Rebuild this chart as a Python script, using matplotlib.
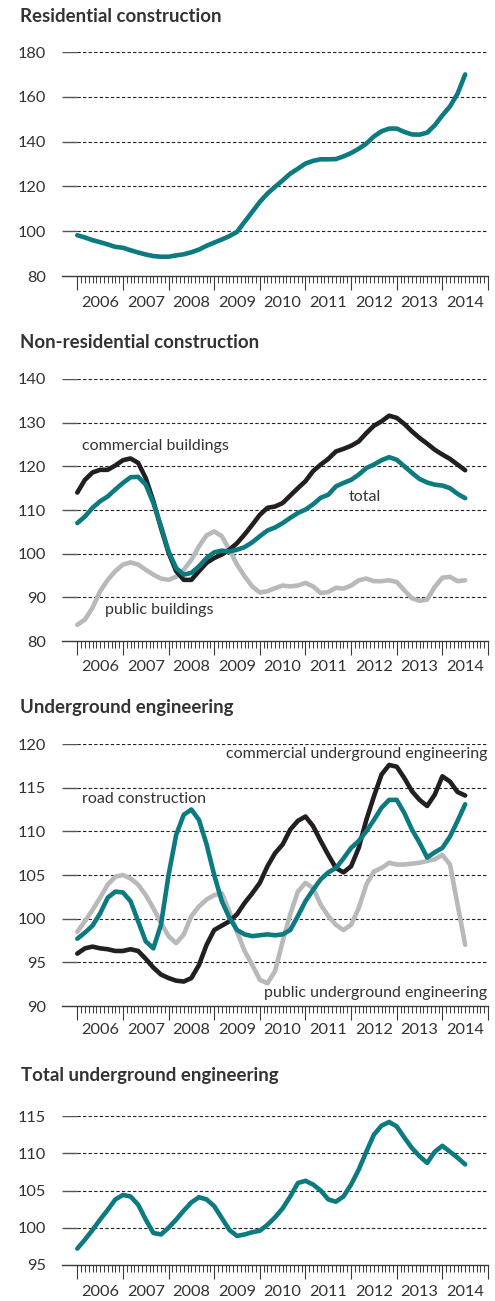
import numpy as np
import matplotlib
matplotlib.use("Agg")
import matplotlib.pyplot as plt
import matplotlib.transforms as mtransforms

plt.rcParams['font.family'] = ['Lato', 'DejaVu Sans']

# ---------------- data (bi-monthly, Jan 2006 .. Jul 2014) ----------------
years = [2006, 2007, 2008, 2009, 2010, 2011, 2012, 2013, 2014]
year_labels = [str(y) for y in years]

residential = [98.2, 97.2, 96.0, 95.1, 94.1, 93.0, 92.6, 91.5, 90.5, 89.6, 88.9, 88.6,
               88.6, 89.2, 89.7, 90.6, 91.8, 93.5, 94.9, 96.3, 97.8, 99.7, 104.2, 108.6,
               113.1, 116.8, 119.8, 122.7, 125.7, 127.9, 130.2, 131.4, 132.1, 132.1, 132.2, 133.4,
               134.9, 136.8, 139.1, 142.3, 144.6, 145.8, 145.8, 144.3, 143.2, 143.1, 144.0, 147.3,
               151.7, 155.7, 161.4, 170.0]

nr_commercial = [114.0, 116.9, 118.6, 119.2, 119.2, 120.2, 121.4, 121.8, 120.8, 117.3, 112.0, 105.9,
                 100.2, 96.0, 94.0, 94.0, 96.0, 97.9, 99.0, 99.8, 100.9, 102.4, 104.4, 106.6,
                 108.9, 110.5, 110.8, 111.6, 113.3, 115.0, 116.6, 118.9, 120.4, 121.7, 123.4, 124.0,
                 124.7, 125.7, 127.6, 129.3, 130.3, 131.6, 131.1, 129.7, 128.0, 126.5, 125.2, 123.8,
                 122.7, 121.7, 120.4, 119.1]

nr_total = [107.0, 108.5, 110.5, 112.0, 113.1, 114.7, 116.2, 117.5, 117.6, 115.8, 111.6, 106.3,
            100.5, 96.7, 95.2, 95.6, 97.1, 99.0, 100.3, 100.7, 100.5, 100.9, 101.5, 102.6,
            104.0, 105.3, 106.0, 107.0, 108.2, 109.3, 110.1, 111.3, 112.8, 113.5, 115.4, 116.2,
            116.9, 118.1, 119.6, 120.4, 121.4, 122.1, 121.5, 120.0, 118.5, 117.1, 116.3, 115.8,
            115.6, 115.0, 113.7, 112.7]

nr_public = [83.7, 84.9, 87.6, 91.4, 94.0, 96.0, 97.5, 98.0, 97.5, 96.3, 95.2, 94.3,
             94.0, 94.7, 96.3, 98.6, 101.7, 104.2, 105.1, 104.0, 100.9, 97.5, 94.8, 92.5,
             91.1, 91.4, 92.1, 92.7, 92.5, 92.7, 93.3, 92.5, 91.0, 91.2, 92.2, 92.0,
             92.7, 93.9, 94.3, 93.7, 93.7, 93.9, 93.5, 91.6, 89.8, 89.2, 89.5, 92.4,
             94.5, 94.7, 93.7, 93.9]

ue_road = [97.7, 98.4, 99.2, 100.6, 102.4, 103.1, 103.0, 102.0, 99.7, 97.4, 96.6, 99.3,
           105.0, 109.6, 111.9, 112.5, 111.3, 108.5, 105.0, 102.0, 100.1, 98.7, 98.2, 98.0,
           98.1, 98.2, 98.1, 98.2, 98.7, 100.3, 102.0, 103.3, 104.5, 105.3, 105.8, 106.9,
           108.1, 108.9, 110.0, 111.3, 112.7, 113.6, 113.6, 112.1, 110.2, 108.7, 107.0, 107.6,
           108.1, 109.4, 111.2, 113.1]

ue_commercial = [96.0, 96.6, 96.8, 96.6, 96.5, 96.3, 96.3, 96.5, 96.3, 95.4, 94.4, 93.6,
                 93.2, 92.9, 92.8, 93.2, 94.7, 97.0, 98.7, 99.2, 99.7, 100.5, 101.8, 102.9,
                 104.1, 106.0, 107.5, 108.5, 110.2, 111.2, 111.7, 110.6, 108.9, 107.3, 105.8, 105.3,
                 106.0, 108.1, 111.3, 114.0, 116.5, 117.6, 117.4, 116.1, 114.6, 113.6, 112.9, 114.2,
                 116.3, 115.7, 114.5, 114.1]

ue_public = [98.5, 99.7, 101.0, 102.4, 103.9, 104.8, 105.0, 104.6, 103.9, 102.7, 101.2, 99.5,
             98.0, 97.2, 98.2, 100.3, 101.4, 102.2, 102.7, 102.9, 100.8, 98.5, 96.3, 94.7,
             93.0, 92.6, 94.0, 97.4, 100.5, 103.1, 104.1, 103.5, 101.6, 100.3, 99.3, 98.7,
             99.3, 101.2, 103.9, 105.4, 105.8, 106.4, 106.2, 106.2, 106.3, 106.4, 106.6, 106.8,
             107.3, 106.2, 101.6, 97.0]

ue_total = [97.2, 98.4, 99.7, 101.1, 102.4, 103.8, 104.4, 104.2, 103.1, 101.1, 99.3, 99.1,
            100.0, 101.1, 102.3, 103.4, 104.1, 103.8, 102.9, 101.3, 99.7, 98.9, 99.1, 99.4,
            99.6, 100.4, 101.4, 102.6, 104.2, 106.0, 106.3, 105.8, 105.0, 103.8, 103.5, 104.2,
            105.8, 107.8, 110.2, 112.5, 113.7, 114.2, 113.6, 112.1, 110.7, 109.6, 108.7, 110.2,
            111.0, 110.2, 109.4, 108.5]

x = 2006 + np.arange(len(residential)) * 2 / 12.0

TEAL = '#0b7b80'
BLACK = '#231f20'
GREY = '#b8b9bb'
TXT = '#333333'

W, H = 495, 1301
fig = plt.figure(figsize=(W / 100, H / 100), dpi=100)

X0 = 2006 - 15.3 / 45.63
X1 = 2015.0


def px_axes(top, bottom, left=62, right=488):
    return fig.add_axes([left / W, 1 - bottom / H, (right - left) / W, (bottom - top) / H])


def fig_text(xp, yp, s, **kw):
    fig.text(xp / W, 1 - yp / H, s, **kw)


def style_axes(ax, yticks, ylabel_y):
    ax.set_xlim(X0, X1)
    ax.set_ylim(yticks[0], yticks[-1])
    for s in ['top', 'right', 'left']:
        ax.spines[s].set_visible(False)
    ax.spines['bottom'].set_color('#3a3a3a')
    ax.spines['bottom'].set_linewidth(1.0)
    ax.set_yticks(yticks)
    ax.set_yticklabels([str(v) for v in yticks])
    ax.tick_params(axis='y', length=0, pad=11.5, labelsize=11.8, labelcolor=TXT)
    # grid: solid stub then dashed
    for v in yticks[1:]:
        ax.hlines(v, X0, 2006, colors='#555555', lw=1.0, zorder=1)
        ax.hlines(v, 2006, X1, colors='#222222', lw=0.8, linestyles=(0, (3, 2)), zorder=1)
    ax.set_xticks(np.arange(2006, 2016))
    ax.set_xticklabels([])
    minors = [y + m / 12 for y in range(2006, 2015) for m in range(1, 12)]
    ax.set_xticks(minors, minor=True)
    ax.tick_params(axis='x', which='major', length=10, width=0.8, color='#3a3a3a', direction='out')
    ax.tick_params(axis='x', which='minor', length=5, width=0.7, color='#3a3a3a', direction='out')
    trans = mtransforms.blended_transform_factory(ax.transData, ax.transAxes)
    for yr, lab in zip(years, year_labels):
        ax.text(yr + 0.5, ylabel_y, lab, transform=trans, ha='center', va='center',
                fontsize=11.8, color=TXT)


LW = 3.3
TFS = 13.4

# Panel 1
ax1 = px_axes(52, 276)
style_axes(ax1, [80, 100, 120, 140, 160, 180], -27 / 224)
ax1.plot(x, residential, color=TEAL, lw=LW, solid_capstyle='round', clip_on=False, zorder=3)
fig_text(20, 17, 'Residential construction', fontsize=TFS, fontweight='bold', color=TXT,
         va='center', ha='left')

# Panel 2
ax2 = px_axes(379, 641)
style_axes(ax2, [80, 90, 100, 110, 120, 130, 140], -26 / 262)
ax2.plot(x, nr_public, color=GREY, lw=LW, solid_capstyle='round', clip_on=False, zorder=3)
ax2.plot(x, nr_commercial, color=BLACK, lw=LW, solid_capstyle='round', clip_on=False, zorder=4)
ax2.plot(x, nr_total, color=TEAL, lw=LW, solid_capstyle='round', clip_on=False, zorder=5)
fig_text(20, 343, 'Non-residential construction', fontsize=TFS, fontweight='bold', color=TXT,
         va='center', ha='left')
fig_text(82, 446, 'commercial buildings', fontsize=11.5, color=TXT, va='center', ha='left')
fig_text(349, 497, 'total', fontsize=11.5, color=TXT, va='center', ha='left')
fig_text(105, 610, 'public buildings', fontsize=11.5, color=TXT, va='center', ha='left')

# Panel 3
ax3 = px_axes(744, 1006)
style_axes(ax3, [90, 95, 100, 105, 110, 115, 120], -24 / 262)
ax3.plot(x, ue_public, color=GREY, lw=LW, solid_capstyle='round', clip_on=False, zorder=3)
ax3.plot(x, ue_commercial, color=BLACK, lw=LW, solid_capstyle='round', clip_on=False, zorder=4)
ax3.plot(x, ue_road, color=TEAL, lw=LW, solid_capstyle='round', clip_on=False, zorder=5)
fig_text(20, 708, 'Underground engineering', fontsize=TFS, fontweight='bold', color=TXT,
         va='center', ha='left')
fig_text(488, 754, 'commercial underground engineering', fontsize=11.5, color=TXT,
         va='center', ha='right')
fig_text(82, 799, 'road construction', fontsize=11.5, color=TXT, va='center', ha='left')
fig_text(487, 993, 'public underground engineering', fontsize=11.5, color=TXT,
         va='center', ha='right')

# Panel 4
ax4 = px_axes(1116, 1265)
style_axes(ax4, [95, 100, 105, 110, 115], -27 / 149)
ax4.plot(x, ue_total, color=TEAL, lw=LW, solid_capstyle='round', clip_on=False, zorder=3)
fig_text(21, 1076, 'Total underground engineering', fontsize=TFS, fontweight='bold', color=TXT,
         va='center', ha='left')

fig.savefig('out.png', dpi=100)
